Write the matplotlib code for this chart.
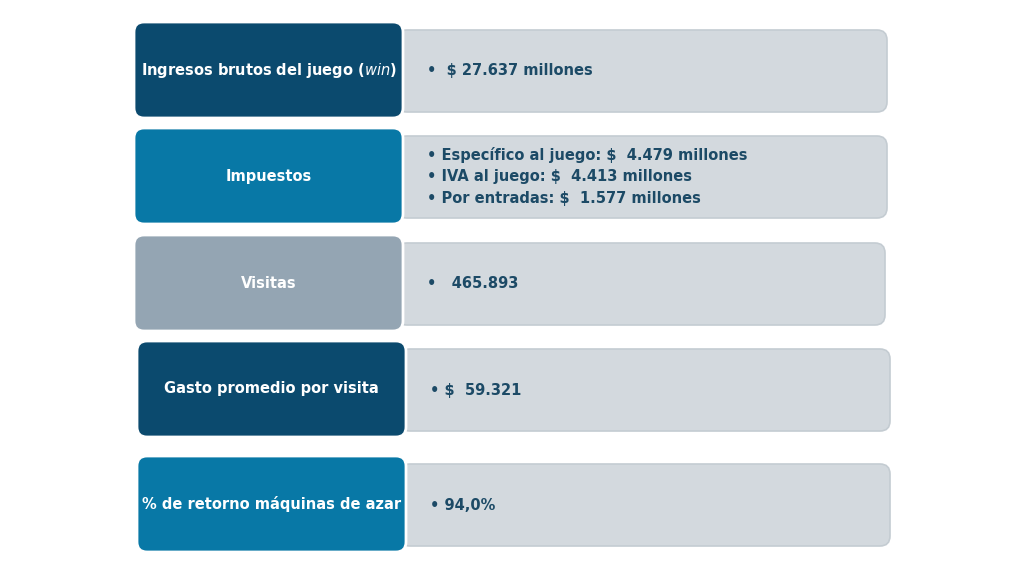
import matplotlib

matplotlib.use("Agg")
import matplotlib.pyplot as plt
from matplotlib.patches import FancyBboxPatch

# Panel labels and their values (text lines of the right-hand box)
labels = [
    r"Ingresos brutos del juego ($\it{win}$)",
    "Impuestos",
    "Visitas",
    "Gasto promedio por visita",
    "% de retorno máquinas de azar",
]
values = [
    ["•  $ 27.637 millones"],
    ["• Específico al juego: $  4.479 millones",
     "• IVA al juego: $  4.413 millones",
     "• Por entradas: $  1.577 millones"],
    ["•   465.893"],
    ["• $  59.321"],
    ["• 94,0%"],
]
label_colors = ["#0b4a6e", "#0878a6", "#94a5b3", "#0b4a6e", "#0878a6"]

# Geometry in pixel units (y grows downward)
row_top = [22, 128, 235, 341, 456]
row_x = [134, 134, 134, 137, 137]
left_w, left_h = 269, 96
right_w = [490, 490, 488, 490, 490]

fig = plt.figure(figsize=(10.24, 5.76), dpi=100)
ax = fig.add_axes([0, 0, 1, 1])
ax.set_xlim(0, 1024)
ax.set_ylim(576, 0)
ax.axis("off")

for i, lab in enumerate(labels):
    x0, y0 = row_x[i], row_top[i]
    rx = x0 + left_w
    ax.add_patch(FancyBboxPatch((rx - 6, y0 + 8), right_w[i], left_h - 14,
                                boxstyle="round,pad=0,rounding_size=10",
                                fc="#d3d9de", ec="#c4ccd2", lw=1.2))
    ax.add_patch(FancyBboxPatch((x0, y0), left_w, left_h,
                                boxstyle="round,pad=0,rounding_size=10",
                                fc=label_colors[i], ec="white", lw=2))
    ax.text(x0 + left_w / 2, y0 + left_h / 2, lab, ha="center", va="center",
            color="white", fontsize=10.5, fontweight="bold")
    lines = values[i]
    cy = y0 + left_h / 2 + 1
    step = 22
    for j, t in enumerate(lines):
        yy = cy + (j - (len(lines) - 1) / 2) * step
        ax.text(rx + 24, yy, t, ha="left", va="center", color="#1c4a66",
                fontsize=10.5, fontweight="bold")

fig.savefig("out.png", dpi=100)
